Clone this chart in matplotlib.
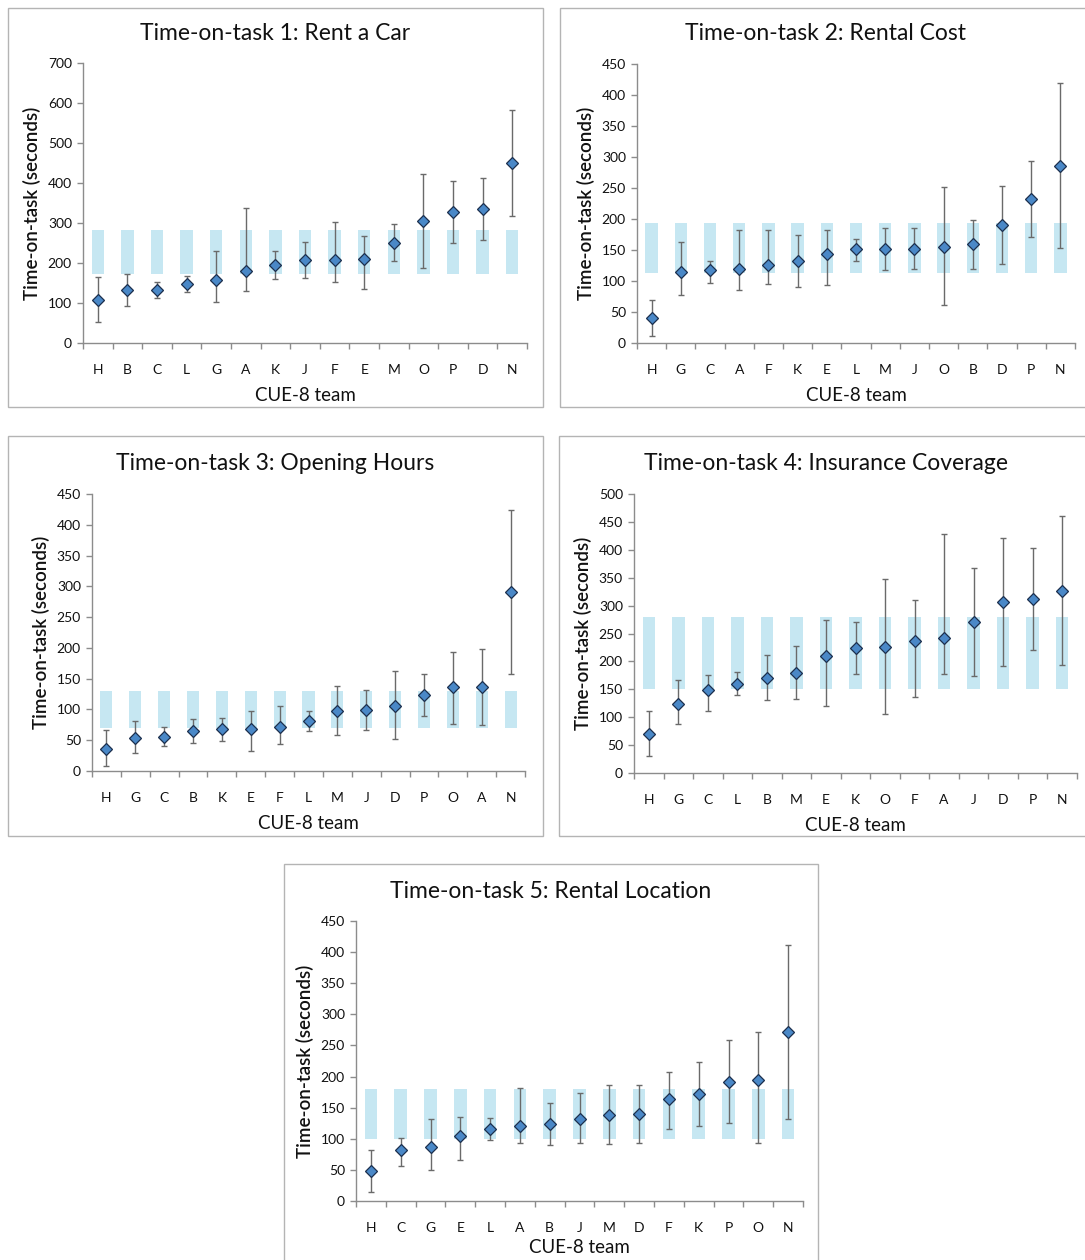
import matplotlib
matplotlib.use("Agg")
import matplotlib.pyplot as plt
from matplotlib.patches import Rectangle
from matplotlib.ticker import MultipleLocator, FixedLocator
import numpy as np

plt.rcParams['font.family'] = ['Lato', 'DejaVu Sans']

# ---------------- DATA ----------------
title1 = "Time-on-task 1: Rent a Car"
teams1 = ["H", "B", "C", "L", "G", "A", "K", "J", "F", "E", "M", "O", "P", "D", "N"]
mean1 = [107, 132, 133, 147, 157, 179, 194, 207, 208, 210, 250, 305, 327, 335, 450]
upper1 = [164, 173, 152, 167, 229, 337, 230, 253, 303, 267, 298, 423, 404, 412, 583]
lower1 = [53, 93, 113, 128, 103, 131, 160, 162, 152, 136, 205, 188, 250, 258, 318]
band_lo1, band_hi1 = 173, 283

title2 = "Time-on-task 2: Rental Cost"
teams2 = ["H", "G", "C", "A", "F", "K", "E", "L", "M", "J", "O", "B", "D", "P", "N"]
mean2 = [40, 115, 117, 120, 126, 132, 144, 151, 151, 151, 155, 159, 190, 233, 286]
upper2 = [69, 163, 132, 183, 183, 174, 183, 168, 185, 185, 251, 198, 254, 294, 420]
lower2 = [12, 77, 97, 85, 95, 91, 94, 133, 117, 119, 62, 120, 127, 171, 153]
band_lo2, band_hi2 = 113, 193

title3 = "Time-on-task 3: Opening Hours"
teams3 = ["H", "G", "C", "B", "K", "E", "F", "L", "M", "J", "D", "P", "O", "A", "N"]
mean3 = [36, 54, 56, 65, 68, 69, 71, 81, 98, 99, 106, 123, 136, 136, 291]
upper3 = [66, 82, 71, 85, 86, 97, 105, 98, 138, 132, 162, 157, 194, 198, 424]
lower3 = [8, 29, 40, 45, 49, 33, 44, 65, 58, 66, 52, 90, 77, 75, 158]
band_lo3, band_hi3 = 70, 130

title4 = "Time-on-task 4: Insurance Coverage"
teams4 = ["H", "G", "C", "L", "B", "M", "E", "K", "O", "F", "A", "J", "D", "P", "N"]
mean4 = [70, 123, 149, 160, 170, 179, 209, 224, 226, 236, 242, 270, 307, 311, 326]
upper4 = [112, 167, 175, 181, 212, 227, 274, 270, 348, 310, 428, 367, 422, 403, 460]
lower4 = [30, 87, 112, 139, 130, 133, 120, 177, 105, 136, 177, 173, 191, 220, 193]
band_lo4, band_hi4 = 151, 280

title5 = "Time-on-task 5: Rental Location"
teams5 = ["H", "C", "G", "E", "L", "A", "B", "J", "M", "D", "F", "K", "P", "O", "N"]
mean5 = [48, 82, 86, 104, 116, 120, 124, 132, 139, 140, 164, 172, 191, 194, 272]
upper5 = [82, 101, 132, 135, 133, 181, 158, 174, 186, 187, 208, 223, 259, 271, 411]
lower5 = [15, 56, 50, 66, 98, 93, 90, 93, 92, 93, 116, 120, 126, 94, 132]
band_lo5, band_hi5 = 100, 180

xlabel = "CUE-8 team"
ylabel = "Time-on-task (seconds)"

# ---------------- LAYOUT ----------------
W, H = 1085, 1260
fig = plt.figure(figsize=(W / 100, H / 100), dpi=100)


def px_axes(l, r, t, b):
    return [l / W, 1 - b / H, (r - l) / W, (b - t) / H]


def frame(l, r, t, b):
    fig.patches.append(Rectangle((l / W, 1 - b / H), (r - l) / W, (b - t) / H,
                                 transform=fig.transFigure, fill=False,
                                 edgecolor="#b4b4b4", linewidth=1.0, zorder=0))


panels = [
    (title1, teams1, mean1, upper1, lower1, band_lo1, band_hi1, 700, 100,
     (83, 527, 63, 343), (8, 543, 8, 407), 34, 8),
    (title2, teams2, mean2, upper2, lower2, band_lo2, band_hi2, 450, 50,
     (637, 1075, 64, 343), (560, 1100, 8, 407), 34, 8),
    (title3, teams3, mean3, upper3, lower3, band_lo3, band_hi3, 450, 50,
     (92, 525, 494, 771), (8, 543, 436, 836), 463, 8),
    (title4, teams4, mean4, upper4, lower4, band_lo4, band_hi4, 500, 50,
     (634, 1077, 494, 773), (559, 1100, 436, 836), 463, 8),
    (title5, teams5, mean5, upper5, lower5, band_lo5, band_hi5, 450, 50,
     (356, 803, 921, 1201), (284, 818, 864, 1280), 891, 4),
]

band_color = "#c6e7f2"
marker_face = "#4a88c7"
marker_edge = "#1c2f4d"
err_color = "#6a6a6a"
spine_color = "#8c8c8c"
text_color = "#111111"

for (title, teams, mean, upper, lower, blo, bhi, ymax, ystep,
     abox, fbox, title_y, xpad) in panels:
    frame(*fbox)
    ax = fig.add_axes(px_axes(*abox))
    x = np.arange(len(teams))
    mean_a = np.array(mean, dtype=float)
    up_a = np.array(upper, dtype=float)
    lo_a = np.array(lower, dtype=float)

    ax.bar(x, [bhi - blo] * len(teams), bottom=[blo] * len(teams), width=0.42,
           color=band_color, edgecolor="none", zorder=1)
    ax.errorbar(x, mean_a, yerr=[mean_a - lo_a, up_a - mean_a], fmt="none",
                ecolor=err_color, elinewidth=1.0, capsize=2.2, capthick=1.0,
                zorder=2)
    ax.plot(x, mean_a, linestyle="none", marker="D", markersize=6.3,
            markerfacecolor=marker_face, markeredgecolor=marker_edge,
            markeredgewidth=0.9, zorder=3)

    ax.set_xlim(-0.5, len(teams) - 0.5)
    ax.set_ylim(0, ymax)
    ax.yaxis.set_major_locator(MultipleLocator(ystep))
    ax.set_xticks(x)
    ax.set_xticklabels(teams)
    ax.xaxis.set_minor_locator(FixedLocator(np.arange(-0.5, len(teams), 1.0)))

    for s in ("top", "right"):
        ax.spines[s].set_visible(False)
    for s in ("left", "bottom"):
        ax.spines[s].set_color(spine_color)
        ax.spines[s].set_linewidth(1.0)

    ax.tick_params(axis="x", which="major", length=0, pad=15, labelsize=10,
                   colors=text_color)
    ax.tick_params(axis="x", which="minor", length=4, width=1.0,
                   color=spine_color, direction="out")
    ax.tick_params(axis="y", which="major", length=4, width=1.0,
                   color=spine_color, direction="out", pad=4, labelsize=10,
                   labelcolor=text_color)
    ax.patch.set_alpha(0)

    ax.set_xlabel(xlabel, fontsize=13.5, color=text_color, labelpad=xpad)
    ax.set_ylabel(ylabel, fontsize=13.5, color=text_color, fontweight="semibold",
                  labelpad=5)

    fcx = (fbox[0] + min(fbox[1], 1092)) / 2
    fig.text(fcx / W, 1 - title_y / H, title, ha="center", va="center",
             fontsize=16.5, color=text_color)

fig.savefig("out.png", dpi=100, facecolor="white")
